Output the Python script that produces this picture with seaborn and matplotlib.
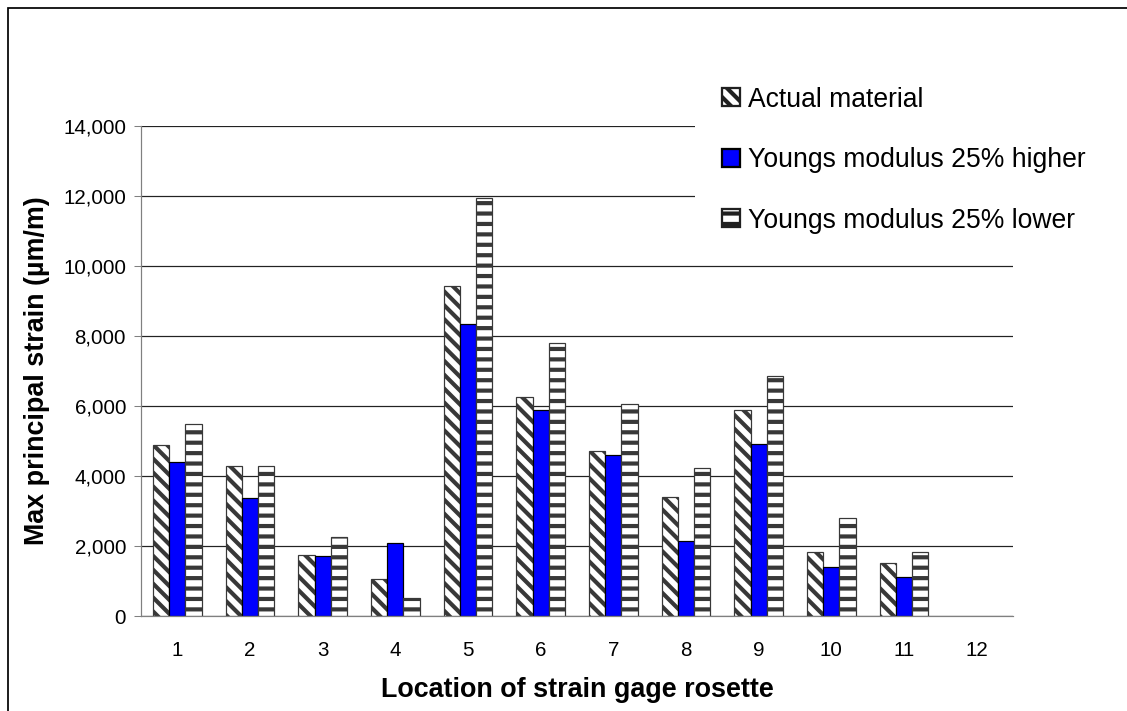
import numpy as np
import pandas as pd
import matplotlib
matplotlib.use("Agg")
import matplotlib.pyplot as plt
from matplotlib.patches import Patch, Rectangle
from matplotlib.ticker import FuncFormatter
import seaborn as sns

# ---- data -------------------------------------------------------------
locations = [str(i) for i in range(1, 13)]          # rosette 12 has no reading
series = ["Actual material", "Youngs modulus 25% higher", "Youngs modulus 25% lower"]
actual = [4900, 4300, 1730, 1050, 9420, 6250, 4710, 3390, 5900, 1840, 1510]
higher = [4400, 3380, 1710, 2100, 8350, 5890, 4600, 2140, 4910, 1400, 1120]
lower = [5480, 4290, 2250, 510, 11930, 7800, 6070, 4220, 6850, 2810, 1840]
y_ticks = [0, 2000, 4000, 6000, 8000, 10000, 12000, 14000]

# ---- styling ----------------------------------------------------------
sns.set_style("white")
plt.rcParams["font.family"] = ["Liberation Sans", "DejaVu Sans"]
plt.rcParams["hatch.linewidth"] = 2.4
plt.rcParams["text.color"] = "black"
plt.rcParams["axes.labelcolor"] = "black"

HATCH_GRAY = "#383838"
AXIS_GRAY = "#808080"
BLUE = "#0000FF"
hatches = ["\\\\\\", "", "--"]
edge_colors = [HATCH_GRAY, "black", HATCH_GRAY]
palette = dict(zip(series, ["white", BLUE, "white"]))

DPI = 125
W, H = 1127, 711
fig = plt.figure(figsize=(W / DPI, H / DPI), dpi=DPI)
ax = fig.add_axes([141 / W, 1 - 616 / H, 872 / W, 490 / H])

rows = []
for name, vals in zip(series, [actual, higher, lower]):
    for loc, v in zip(locations, vals):
        rows.append({"location": loc, "series": name, "strain": v})
df = pd.DataFrame(rows)

sns.barplot(data=df, x="location", y="strain", hue="series",
            order=locations, hue_order=series, palette=palette,
            width=0.674, saturation=1, errorbar=None, legend=False,
            edgecolor="black", linewidth=0.7, ax=ax)


def paint_hatch(patch, hatch, edge):
    # the hatch takes its colour from the edge colour
    patch.set_edgecolor(edge)
    patch.set_hatch(hatch)


for container, hatch, edge in zip(ax.containers, hatches, edge_colors):
    for bar in container:
        paint_hatch(bar, hatch, edge)

# ---- axes -------------------------------------------------------------
ax.set_xlim(-0.5, len(locations) - 0.5)
ax.set_ylim(0, 14000)
ax.set_yticks(y_ticks)
ax.yaxis.set_major_formatter(FuncFormatter(lambda v, _: f"{v:,.0f}"))
ax.yaxis.grid(True, color="#222222", linewidth=0.7)
ax.xaxis.grid(False)
ax.set_axisbelow(True)

ax.set_xticks(np.arange(-0.5, len(locations), 1.0), minor=True)
ax.tick_params(axis="x", which="major", length=0, pad=14.5, labelsize=11.8,
               labelcolor="black")
ax.tick_params(axis="x", which="minor", length=4, width=0.6, color=AXIS_GRAY,
               direction="out")
ax.tick_params(axis="y", which="major", length=4, width=0.6, color=AXIS_GRAY,
               direction="out", pad=4.6, labelsize=11.8, left=True,
               labelcolor="black")

for side in ("top", "right"):
    ax.spines[side].set_visible(False)
for side in ("left", "bottom"):
    ax.spines[side].set_color(AXIS_GRAY)
    ax.spines[side].set_linewidth(0.7)

ax.set_xlabel("Location of strain gage rosette", fontsize=15.5,
              fontweight="bold", va="center")
ax.xaxis.set_label_coords(0.5, (616 - 690) / 490)
ax.set_ylabel("Max principal strain (µm/m)", fontsize=15.5,
              fontweight="bold", va="center")
ax.yaxis.set_label_coords((37 - 141) / 872, 0.5)

# ---- legend -----------------------------------------------------------
handles = []
for name, hatch, edge in zip(series, hatches, edge_colors):
    h = Patch(facecolor=palette[name], linewidth=1.3)
    paint_hatch(h, hatch, "black" if not hatch else "#202020")
    handles.append(h)

leg = ax.legend(handles, series, loc="upper left",
                bbox_to_anchor=(695 / W, 1 - 60 / H),
                bbox_transform=fig.transFigure, borderaxespad=0,
                borderpad=1.0, frameon=True, fancybox=False, framealpha=1,
                facecolor="white", edgecolor="white", fontsize=15.3,
                handlelength=0.68, handleheight=0.68, handletextpad=0.3,
                labelspacing=1.3)
leg.get_frame().set_linewidth(0)

# chart-area border
fig.add_artist(Rectangle((8 / W, -0.1), 1.5, 1.1 - 8 / H,
                         transform=fig.transFigure, fill=False,
                         edgecolor="black", linewidth=1.0))

fig.savefig("out.png", dpi=DPI, facecolor="white")
